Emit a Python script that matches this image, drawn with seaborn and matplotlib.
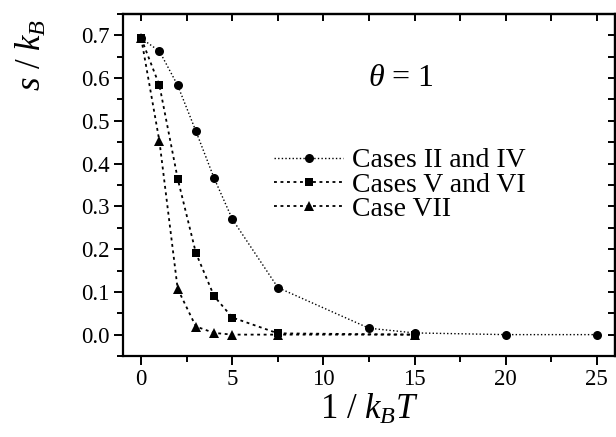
import numpy as np
import pandas as pd
import matplotlib
matplotlib.use("Agg")
import matplotlib.pyplot as plt
import seaborn as sns
from matplotlib.ticker import MultipleLocator, FormatStrFormatter

# entropy per site vs inverse temperature, theta = 1
x_c = [0, 1, 2, 3, 4, 5, 7.5, 12.5, 15, 20, 25]
s_c = [0.693, 0.663, 0.583, 0.476, 0.366, 0.270, 0.110, 0.015, 0.004, 0.0, 0.0]

x_s = [0, 1, 2, 3, 4, 5, 7.5, 15]
s_s = [0.693, 0.583, 0.365, 0.191, 0.090, 0.040, 0.003, 0.0]

x_t = [0, 1, 2, 3, 4, 5, 7.5, 15]
s_t = [0.693, 0.452, 0.107, 0.019, 0.004, 0.0, 0.0, 0.0]

labels = ["Cases II and IV", "Cases V and VI", "Case VII"]

sns.set_theme(style="ticks")
plt.rcParams["font.family"] = ["Liberation Serif", "DejaVu Serif"]
plt.rcParams["mathtext.fontset"] = "custom"
plt.rcParams["mathtext.rm"] = "Liberation Serif"
plt.rcParams["mathtext.it"] = "Liberation Serif:italic"
plt.rcParams["text.color"] = "black"
plt.rcParams["axes.labelcolor"] = "black"
plt.rcParams["xtick.color"] = "black"
plt.rcParams["ytick.color"] = "black"

fig = plt.figure(figsize=(6.16, 4.37), dpi=100)
ax = fig.add_axes([123 / 616, 1 - 356 / 437, (615 - 123) / 616, (356 - 14) / 437])

series = [
    (x_c, s_c, "o", 6.5, (0, (1.0, 1.6)), 1.0),
    (x_s, s_s, "s", 6.0, (0, (1.6, 2.0)), 1.3),
    (x_t, s_t, "^", 7.0, (0, (1.6, 2.0)), 1.3),
]
for (xs, ys, mk, ms, ls, lw), lab in zip(series, labels):
    df = pd.DataFrame({"x": xs, "s": ys})
    sns.lineplot(data=df, x="x", y="s", ax=ax, color="black", marker=mk,
                 markersize=ms, markeredgewidth=0, linestyle=ls, linewidth=lw,
                 label=lab, sort=True)

ax.set_xlim(-1, 26)
ax.set_ylim(-0.05, 0.75)
ax.xaxis.set_major_locator(MultipleLocator(5))
ax.xaxis.set_minor_locator(MultipleLocator(2.5))
ax.yaxis.set_major_locator(MultipleLocator(0.1))
ax.yaxis.set_minor_locator(MultipleLocator(0.05))
ax.yaxis.set_major_formatter(FormatStrFormatter("%.1f"))

for sp in ax.spines.values():
    sp.set_visible(True)
    sp.set_linewidth(1.6)
    sp.set_color("black")

ax.tick_params(axis="both", which="major", direction="out", length=6.5,
               width=1.4, labelsize=16.5, color="black", labelcolor="black", pad=3)
ax.tick_params(axis="both", which="minor", direction="out", length=4,
               width=1.4, color="black")

# mirrored inward ticks on top and right
top = ax.secondary_xaxis("top")
top.xaxis.set_major_locator(MultipleLocator(2.5))
top.tick_params(direction="in", length=5, width=1.4, labeltop=False, color="black")
top.spines["top"].set_linewidth(1.6)
right = ax.secondary_yaxis("right")
right.yaxis.set_major_locator(MultipleLocator(0.05))
right.tick_params(direction="in", length=5, width=1.4, labelright=False, color="black")
right.spines["right"].set_linewidth(1.6)

ax.set_xlabel(r"1 / $k_B T$", fontsize=25, labelpad=2)
ax.set_ylabel(r"$s$ / $k_B$", fontsize=25, va="center", ha="center")
ax.yaxis.set_label_coords(-0.185, 0.88)

ax.text(0.565, 0.81, r"$\theta$ = 1", transform=ax.transAxes, fontsize=23,
        ha="center", va="center")

leg = ax.legend(loc="upper left", bbox_to_anchor=(274 / 616, 1 - 148 / 437),
                bbox_transform=fig.transFigure, frameon=False, fontsize=20,
                handlelength=2.5, handletextpad=0.3, labelspacing=-0.05,
                borderpad=0, borderaxespad=0)

fig.savefig("out.png", dpi=100)
